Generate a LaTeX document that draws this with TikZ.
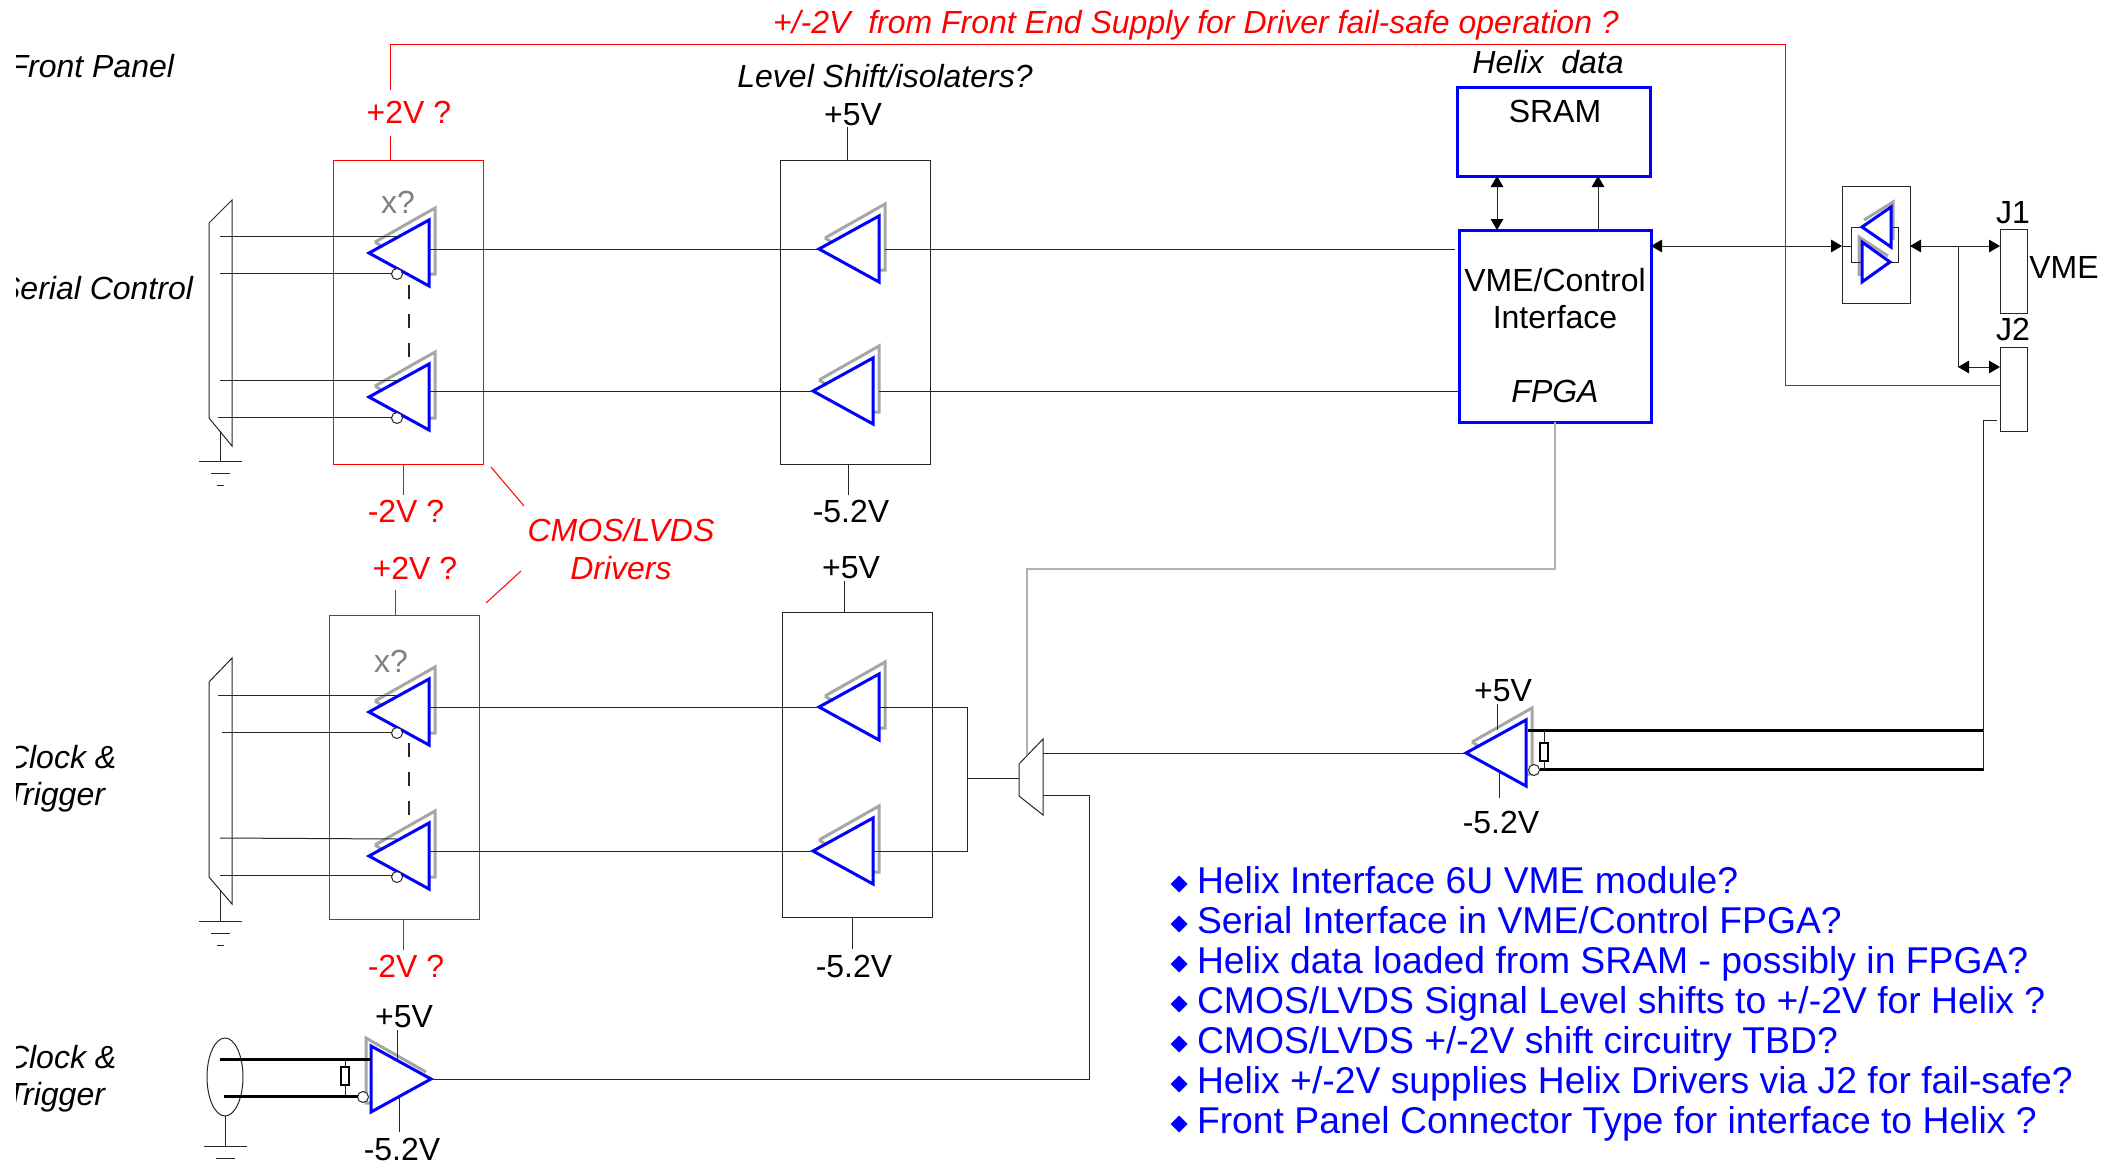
\documentclass[tikz,border=0pt]{standalone}
\usepackage{fontspec}
\setmainfont{Liberation Sans}
\usetikzlibrary{arrows.meta, positioning, calc, shapes.geometric}

\tikzset{
	every node/.style={inner sep=0pt, outer sep=0pt, font=\fontsize{16}{18.5}\selectfont},
	wire/.style={draw=black!85, line width=0.5pt},
	lightwire/.style={draw=black!30, line width=0.6pt},
	redwire/.style={draw=red, line width=0.5pt},
	fatwire/.style={draw=black, line width=1.5pt},
	arrowup/.style={wire, -{Triangle[length=5.5pt,width=6.3pt,color=black]}},
	dblarrow/.style={wire, {Triangle[length=5.5pt,width=6.3pt,color=black]}-{Triangle[length=5.5pt,width=6.3pt,color=black]}},
	shadowline/.style={draw=black!35, line width=1.5pt},
	bufl/.style={isosceles triangle, isosceles triangle stretches, shape border rotate=180, minimum width=33pt, minimum height=30pt, draw=blue, line width=1.5pt, anchor=apex},
	bufr/.style={isosceles triangle, isosceles triangle stretches, minimum width=33pt, minimum height=30pt, draw=blue, line width=1.5pt, anchor=apex},
	bubble/.style={circle, draw=black!85, fill=white, line width=0.5pt, minimum size=5.5pt},
	drvbox/.style={draw=red, line width=0.5pt, minimum width=75pt},
	lvbox/.style={draw=black!85, line width=0.5pt, minimum width=75pt},
	chipbox/.style={draw=blue, line width=1.5pt},
	portbox/.style={draw=black!85, line width=0.5pt, minimum width=13.5pt, minimum height=42pt},
	resistor/.style={draw=black, line width=1pt, minimum width=4pt, minimum height=9pt},
	redtext/.style={text=red},
	xmark/.style={text=black!50},
	bullet/.style={diamond, fill=blue, minimum size=8.5pt},
	note/.style={text=blue, anchor=base west, font=\fontsize{18.65}{22}\selectfont},
}

\newcommand{\bufleft}[3]{%
	\draw[shadowline] (#2+6,#3-11) -- (#2+66,#3-45) -- (#2+66,#3+21) -- (#2+60,#3+21);
	\draw[shadowline] (#2+6,#3-11) -- (#2+14,#3-6);
	\node[bufl] (#1) at (#2,#3) {};
}
\newcommand{\drvleft}[3]{%
	\bufleft{#1}{#2}{#3}
	\node[bubble] (#1b) at (#2+28,#3+21) {};
	\coordinate (#1p) at (#2+28,#3-17);
}
\newcommand{\earth}[1]{%
	\draw[wire] ($(#1)+(-21,0)$) -- ($(#1)+(22,0)$);
	\draw[wire] ($(#1)+(-9,12)$) -- ($(#1)+(10,12)$);
}

\begin{document}
\begin{tikzpicture}[x=0.5pt, y=-0.5pt]
	\useasboundingbox (0,0) rectangle (2116,1167);

	% labels on the left are cut by the page edge
	\begin{scope}
		\clip (16,0) rectangle (300,1167);
		\node[anchor=east] (frontlbl) at (174,66) {\itshape Front Panel};
		\node[anchor=east] (seriallbl) at (193,288) {\itshape Serial Control};
		\node[anchor=west, align=left] (clocklblA) at (6,779) {\itshape Clock \&\\\itshape Trigger};
		\node[anchor=west, align=left] (clocklblB) at (6,1079) {\itshape Clock \&\\\itshape Trigger};
	\end{scope}

	% boxes
	\node[drvbox, minimum height=152pt] (drvboxA) at (408,312) {};
	\node[drvbox, minimum height=152pt] (drvboxB) at (404,767) {};
	\node[lvbox, minimum height=152pt] (lvboxA) at (855,312) {};
	\node[lvbox, minimum height=152.5pt] (lvboxB) at (857,764.5) {};
	\node[chipbox, minimum width=96.5pt, minimum height=44.5pt] (sram) at (1553.5,131.5) {};
	\node (sramtxt) at (1555,111) {SRAM};
	\node[chipbox, minimum width=96pt, minimum height=96pt] (fpga) at (1555,326) {};
	\node[align=center] (fpgatxt) at (1555,336) {VME/Control\\Interface\\ \\\itshape FPGA};
	\node[lvbox, minimum width=34pt, minimum height=58.5pt] (xcvr) at (1876,244.5) {};
	\node[portbox] (jone) at (2013.5,271) {};
	\node[portbox] (jtwo) at (2013.5,389) {};

	% buffers
	\drvleft{drvA}{369}{253}
	\drvleft{drvB}{369}{397}
	\drvleft{drvC}{369}{712}
	\drvleft{drvD}{369}{856}
	\bufleft{lvA}{819}{249}
	\bufleft{lvB}{813}{391}
	\bufleft{lvC}{819}{707}
	\bufleft{lvD}{813}{851}
	\bufleft{bufF}{1466}{753}
	\node[bubble] (bufFb) at (1534,770) {};
	\draw[shadowline] (372,1103) -- (366,1103) -- (366,1038) -- (426,1072);
	\node[bufr] (bufE) at (431,1079) {};
	\node[bubble] (bufEb) at (363,1097) {};

	% buffers in the VME transceiver
	\draw[shadowline] (1864,220) -- (1893,202) -- (1893,240);
	\draw[shadowline] (1859,276) -- (1859,237) -- (1888,256);
	\node[bufl, minimum width=20pt, minimum height=14.5pt] (txUp) at (1862,227) {};
	\node[bufr, minimum width=20pt, minimum height=14pt] (txDn) at (1890,262) {};

	% left hand connectors
	\draw[wire] (209,223) -- (232,200) -- (232,446) -- (209,418) -- cycle;
	\draw[wire] (209,682) -- (232,658) -- (232,904) -- (209,877) -- cycle;
	\node[draw=black!85, line width=0.5pt, ellipse, minimum width=18pt, minimum height=39pt] (coax) at (225,1077) {};
	\coordinate (gndA) at (220,461);
	\coordinate (gndB) at (220,921);
	\coordinate (gndC) at (225,1146);
	\draw[wire] (220,431) -- (gndA);
	\draw[wire] (220,891) -- (gndB);
	\draw[wire] (coax.south) -- (gndC);
	\earth{gndA}
	\earth{gndB}
	\earth{gndC}
	\draw[wire] ($(gndA)+(-3,24)$) -- ($(gndA)+(4,24)$);
	\draw[wire] ($(gndB)+(-3,24)$) -- ($(gndB)+(4,24)$);

	% inputs
	\coordinate (inAp) at (220,236);
	\coordinate (inAn) at (220,273);
	\coordinate (inBp) at (220,380);
	\coordinate (inBn) at (218,417);
	\coordinate (inCp) at (218,695);
	\coordinate (inCn) at (222,732);
	\coordinate (inDp) at (220,838);
	\coordinate (inDn) at (220,875);
	\foreach \nm in {A,B,C,D} {
		\draw[wire] (in\nm p) -- (drv\nm p);
		\draw[wire] (in\nm n) -- (in\nm n -| drv\nm b.west);
	}
	\coordinate (dashA) at (409,285);
	\coordinate (dashB) at (409,362);
	\coordinate (dashC) at (409,743);
	\coordinate (dashD) at (409,820);
	\draw[draw=black!85, line width=0.8pt, dash pattern=on 7pt off 7.5pt] (dashA) -- (dashB);
	\draw[draw=black!85, line width=0.8pt, dash pattern=on 7pt off 7.5pt] (dashC) -- (dashD);

	% driver to level shift, level shift to fpga
	\draw[wire] (drvA.lower side |- lvA.apex) -- (lvA.apex);
	\draw[wire] (drvB.lower side |- lvB.apex) -- (lvB.apex);
	\draw[wire] (drvC.lower side |- lvC.apex) -- (lvC.apex);
	\draw[wire] (drvD.lower side |- lvD.apex) -- (lvD.apex);
	\draw[wire, shorten <=3pt, shorten >=2pt] (lvA.lower side) -- (fpga.west |- lvA.lower side);
	\draw[wire, shorten <=3pt] (lvB.lower side) -- (fpga.west |- lvB.lower side);

	% mux
	\coordinate (muxIn) at (1019,778);
	\coordinate (muxTop) at (1043,753);
	\coordinate (muxBot) at (1043,795);
	\coordinate (muxSel) at (1027,755);
	\coordinate (selRun) at (1027,569);
	\coordinate (muxRun) at (1089,795);
	\coordinate (sumC) at (967,778);
	\draw[wire] (1019,764) -- (1043,739) -- (1043,815) -- (1019,796) -- cycle;
	\draw[wire] (lvC.lower side) -- (sumC |- lvC.lower side) -- (sumC |- lvD.lower side) -- (lvD.lower side);
	\draw[wire] (sumC) -- (muxIn);
	\draw[wire] (muxTop) -- (bufF.apex);
	\draw[wire] (muxBot) -- (muxRun) |- (bufE.apex);
	\draw[lightwire] (fpga.south) |- (selRun) -- (muxSel);

	% differential lines
	\coordinate (coaxP) at (220,1059);
	\coordinate (coaxN) at (224,1096);
	\draw[fatwire] (coaxP) -- (bufE.lower side |- coaxP);
	\draw[fatwire] (coaxN) -- (bufEb.west |- coaxN);
	\node[resistor, fill=white] (rtermE) at (345,1076) {};
	\draw[wire] (rtermE.north) -- (rtermE.north |- coaxP);
	\draw[wire] (rtermE.south) -- (rtermE.south |- coaxN);
	\coordinate (lineFs) at (1528,730);
	\coordinate (lineFa) at (1984,730);
	\coordinate (lineFb) at (1984,769);
	\draw[fatwire] (lineFs) -- (lineFa);
	\draw[fatwire] (bufFb.east |- lineFb) -- (lineFb);
	\node[resistor, fill=white] (rtermF) at (1544,751.5) {};
	\draw[wire] (rtermF.north) -- (rtermF.north |- lineFa);
	\draw[wire] (rtermF.south) -- (rtermF.south |- lineFb);
	\coordinate (stubJ) at (1997,420);
	\coordinate (riserTop) at (1983,420);
	\draw[wire] (stubJ) -- (riserTop) -- (riserTop |- lineFb);

	% sram, vme bus
	\coordinate (memA) at (1497,200);
	\coordinate (memB) at (1598,200);
	\draw[dblarrow] (sram.south -| memA) -- (fpga.north -| memA);
	\draw[arrowup] (fpga.north -| memB) -- (sram.south -| memB);
	\coordinate (bus) at (1958,246);
	\coordinate (busdn) at (1958,367);
	\coordinate (xin) at (1851,246);
	\coordinate (xout) at (1898,246);
	\draw[dblarrow] (fpga.east |- bus) -- (xcvr.west |- bus);
	\draw[dblarrow] (xcvr.east |- bus) -- (jone.west |- bus);
	\draw[wire] (bus) -- (busdn);
	\draw[dblarrow] (busdn) -- (jtwo.west |- busdn);
	\draw[wire] (xcvr.west |- xin) -- (xin);
	\draw[wire] (txUp.apex) -- (xin |- txUp.apex) -- (xin |- txDn.lower side) -- (txDn.lower side);
	\draw[wire] (txUp.lower side) -- (xout |- txUp.lower side) -- (xout |- txDn.apex) -- (txDn.apex);

	% supply text and ticks
	\node (pfiveA) at (853,115) {+5V};
	\node (mfiveA) at (851,511) {-5.2V};
	\node (pfiveB) at (851,568) {+5V};
	\node (mfiveB) at (854,966) {-5.2V};
	\node (pfiveE) at (404,1017) {+5V};
	\node (mfiveE) at (402,1149) {-5.2V};
	\node (pfiveF) at (1503,691) {+5V};
	\node (mfiveF) at (1501,822) {-5.2V};
	\foreach \nm/\tx/\ty/\tgt in {tkA/847/127/lvboxA.north, tkB/848/495/lvboxA.south, tkC/844/581/lvboxB.north, tkD/852/949/lvboxB.south, tkE/397/1030/coaxP, tkF/399/1132/bufEb, tkG/1497/704/lineFa, tkH/1499/798/bufFb} {
		\coordinate (\nm) at (\tx,\ty);
		\draw[wire] (\nm) -- (\nm |- \tgt);
	}
	\node[redtext] (ptwoA) at (409,112) {+2V ?};
	\node[redtext] (mtwoA) at (406,511) {-2V ?};
	\node[redtext] (ptwoB) at (415,568) {+2V ?};
	\node[redtext] (mtwoB) at (406,966) {-2V ?};
	\foreach \nm/\tx/\ty/\tgt in {rkA/390/136/drvboxA.north, rkB/403/495/drvboxA.south, rkC/395/590/drvboxB.north, rkD/403/950/drvboxB.south} {
		\coordinate (\nm) at (\tx,\ty);
		\draw[redwire] (\nm) -- (\nm |- \tgt);
	}

	% red supply line
	\coordinate (redStart) at (390,90);
	\coordinate (redTurn) at (1785,44);
	\coordinate (redFeed) at (2000,385);
	\draw[redwire] (redStart) |- (redTurn) -- (redTurn |- redFeed) -- (redFeed);
	\node[redtext] (failsafe) at (1196,25) {\itshape +/-2V\ \ from Front End Supply for Driver fail-safe operation ?};
	\node[redtext, align=center] (cmos) at (621,549) {\itshape CMOS/LVDS\\[0.5pt]\itshape Drivers};
	\coordinate (caA) at (491,467);
	\coordinate (caB) at (524,506);
	\coordinate (caC) at (486,603);
	\coordinate (caD) at (521,571);
	\draw[redwire] (caA) -- (caB);
	\draw[redwire] (caC) -- (caD);

	% other text
	\node[xmark] (xqA) at (398,202) {x?};
	\node[xmark] (xqB) at (391,661) {x?};
	\node (lvltitle) at (885,76) {\itshape Level Shift/isolaters?};
	\node (sramtitle) at (1548,62) {\itshape Helix\ \ data};
	\node (jonetxt) at (2013,213) {J1};
	\node (jtwotxt) at (2013,329) {J2};
	\node (vmetxt) at (2064,267) {VME};

	\foreach \txt [count=\i, evaluate=\i as \yy using 843+40*\i] in {
		Helix Interface 6U VME module?,
		Serial Interface in VME/Control FPGA?,
		Helix data loaded from SRAM - possibly in FPGA?,
		CMOS/LVDS Signal Level shifts to +/-2V for Helix ?,
		CMOS/LVDS +/-2V shift circuitry TBD?,
		Helix +/-2V supplies Helix Drivers via J2 for fail-safe?,
		Front Panel Connector Type for interface to Helix ?} {
		\node[bullet] (dot\i) at (1179,\yy+1) {};
		\node[note] (line\i) at ($(dot\i)+(18,9)$) {\txt};
	}
\end{tikzpicture}
\end{document}
